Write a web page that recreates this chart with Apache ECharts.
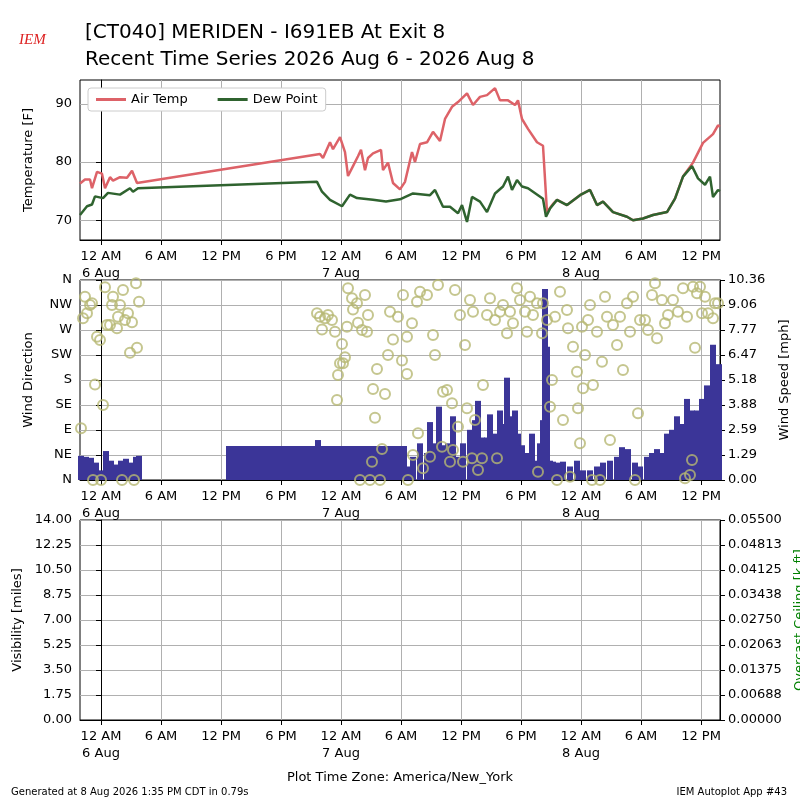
<!DOCTYPE html>
<html lang="en">
<head>
<meta charset="UTF-8">
<title>IEM Autoplot 43</title>
<script src="https://cdn.jsdelivr.net/npm/echarts@6/dist/echarts.min.js"></script>
<style>body{margin:0}#main{width:800px;height:800px}</style>
</head>
<body>
<div id="main"></div>
<script>
// hours since 12 AM 6 Aug (America/New_York)
var airTemp = [[-2.1,76.3],[-1.6,77],[-1.1,77],[-0.9,75.5],[-0.4,78.3],[0.1,78],[0.4,75.5],[0.9,77.4],[1.2,76.8],[1.9,77.4],[2.6,77.3],[3.1,78.5],[3.6,76.4],
  [21.9,81.4],[22.2,80.7],[22.9,83.4],[23.2,82.2],[23.9,84.3],[24.4,81.7],[24.7,77.6],[25.2,79.3],[25.7,81],[26,82.1],[26.4,78.6],[26.7,80.7],[27.2,81.5],[28,82.1],
  [28.2,78.6],[28.7,79.9],[29.2,76.4],[29.9,75.3],[30.4,76.6],[31.1,81.7],[31.4,80],[31.9,83.1],[32.6,83.4],[33.2,85.2],[33.9,83.6],[34.4,87.4],[35.1,89.5],[35.7,90.3],
  [36.6,91.8],[37.2,89.8],[37.9,91.2],[38.6,91.5],[39.4,92.7],[39.9,90.6],[40.7,90.6],[41.4,89.8],[41.7,90.6],[42.1,87.4],[42.7,85.7],[43.6,83.4],[44.2,82.8],
  [44.6,71.4],[45.2,72.8],[45.6,73.5],[46.6,72.6],[47.9,74.3],[48.9,75.2],[49.6,72.6],[50.2,73.2],[51.2,71.4],[52.6,70.6],[53.2,70],[54.2,70.3],[55.2,70.9],
  [56.6,71.4],[57.4,73.7],[58.2,77.5],[59.2,79.9],[60.2,83.3],[61.2,84.8],[61.7,86.3],[61.9,86.1]];
var dewPoint = [[-2.1,70.9],[-1.4,72.4],[-0.9,72.7],[-0.6,74.1],[0.2,73.8],[0.7,74.7],[1.9,74.4],[2.9,75.5],[3.2,74.9],[3.7,75.5],
  [21.6,76.6],[22.1,74.9],[22.9,73.5],[24.1,72.4],[24.9,74.4],[25.6,73.8],[27.2,73.5],[28.5,73.2],[29.9,73.6],[31.2,74.6],[32.9,74.3],[33.4,75.2],
  [34.2,72.3],[34.9,72.3],[35.7,71.2],[36.1,72.6],[36.6,69.7],[37.1,74],[37.9,73.2],[38.6,71.4],[39.4,74.6],[40.2,75.8],[40.7,77.5],[41.1,75.2],
  [41.6,76.9],[42.1,75.8],[42.7,75.5],[44.2,73.7],[44.5,70.6],[44.9,72],[45.6,73.5],[46.6,72.6],[47.9,74.3],[48.9,75.2],[49.6,72.6],[50.2,73.2],
  [51.2,71.4],[52.6,70.6],[53.2,70],[54.2,70.3],[55.2,70.9],[56.6,71.4],[57.4,73.7],[58.2,77.5],[59.1,79.3],[59.7,77.2],[60.4,76.1],[60.9,77.5],
  [61.2,74],[61.7,75.2],[61.9,75]];
var windSpeed = [[-2,1.25],[-1.5,1.2],[-1,1.15],[-0.5,0.9],[0,0.5],[0.5,0.75],[0.5,1.5],[1,1.0],[1.5,0.8],[2,1.0],[2.5,1.1],[3,0.9],[3.5,1.2],[3.8,1.25],
  [12.8,1.76],[13.3,1.76],[13.8,1.76],[14.3,1.76],[14.8,1.76],[15.3,1.76],[15.8,1.76],[16.3,1.76],[16.8,1.76],[17.3,1.76],[17.8,1.76],[18.3,1.76],
  [18.8,1.76],[19.3,1.76],[19.8,1.76],[20.3,1.76],[20.8,1.76],[21.3,1.76],[21.7,2.07],[22.3,1.76],[22.8,1.76],[23.3,1.76],[23.8,1.76],[24.3,1.76],
  [24.8,1.76],[25.3,1.76],[25.8,1.76],[26.3,1.76],[26.8,1.76],[27.3,1.76],[27.8,1.76],[28.3,1.76],[28.8,1.76],[29.3,1.76],[29.8,1.76],[30.3,1.76],
  [30.6,0.7],[31.2,1.2],[31.9,1.9],[32.6,1.4],[32.9,3.0],[33.4,1.9],[33.8,3.8],[34.2,1.8],[34.7,1.9],[35.2,3.3],[35.7,1.2],[36.2,1.9],[36.9,2.6],
  [37.4,3.1],[37.7,4.1],[38.1,2.2],[38.6,2.2],[38.9,3.4],[39.4,2.4],[39.9,3.6],[40.2,2.9],[40.6,5.3],[41.1,3.3],[41.4,3.6],[41.7,2.4],[42.1,1.8],
  [42.6,1.4],[43.1,2.4],[43.6,1.0],[43.9,1.9],[44.2,3.1],[44.4,9.9],[44.6,6.9],[44.9,1.0],[45.2,0.95],[45.6,0.9],[46.2,0.95],[46.9,0.7],[47.6,1.0],
  [48.2,0.5],[48.9,0.5],[49.6,0.7],[50.2,0.9],[50.9,1.0],[51.6,1.2],[52.1,1.7],[52.7,1.6],[53.4,0.9],[53.9,0.7],[54.6,1.2],[55.1,1.4],[55.6,1.6],
  [56.1,1.4],[56.6,2.4],[57.1,2.6],[57.6,3.3],[58.1,2.9],[58.6,4.2],[59.1,3.6],[59.6,3.6],[60.1,4.2],[60.6,4.9],[60.9,4.1],[61.2,7.0],[61.4,5.7],[61.8,6.0]];
var windDir = [[-2,93],[-1.8,291],[-1.6,330],[-1.4,300],[-1.1,315],[-0.9,318],[-0.6,172],[-0.8,0],[-0.4,258],[-0.1,252],[0,0],[0.2,135],[0.4,347],
  [0.6,279],[0.9,279],[1.1,315],[1.2,330],[1.6,273],[1.7,294],[1.9,315],[2.1,0],[2.2,342],[2.4,288],[2.7,300],[2.9,229],[3.1,284],[3.3,0],[3.5,354],
  [3.6,238],[3.8,321],
  [21.6,300],[21.9,294],[22.1,271],[22.4,291],[22.7,297],[23.1,288],[23.4,267],[23.6,144],[23.7,189],[23.9,210],[24.1,245],[24.2,210],[24.4,221],
  [24.6,276],[24.7,345],[25.1,327],[25.2,307],[25.6,318],[25.7,283],[25.9,0],[26.1,270],[26.4,333],[26.6,267],[26.7,297],[26.9,0],[27.1,33],
  [27.2,164],[27.4,112],[27.6,200],[27.9,0],[28.1,56],[28.4,155],[28.7,225],[28.9,303],[29.2,253],[29.7,294],[30.1,215],[30.2,333],[30.6,191],
  [30.7,0],[30.6,258],[31.1,282],[31.2,45],[31.6,321],[31.7,84],[31.9,339],[32.2,21],[32.6,333],[32.9,42],[33.2,261],[33.4,225],[33.7,351],
  [34.1,60],[34.2,159],[34.6,162],[34.9,33],[35.1,138],[35.2,54],[35.4,342],[35.7,96],[35.9,297],[36.2,33],[36.4,243],[36.6,129],[36.9,324],
  [37.1,39],[37.2,303],[37.4,108],[37.7,18],[38.1,39],[38.2,171],[38.6,297],[38.9,327],[39.4,288],[39.6,39],[39.9,303],[40.2,315],[40.6,264],
  [40.9,303],[41.2,282],[41.6,345],[41.9,324],[42.4,303],[42.6,267],[42.9,330],[43.2,297],[43.6,318],[43.7,15],[44.1,264],[44.2,318],[44.6,288],
  [44.9,132],[45.1,180],[45.4,294],[45.6,0],[45.9,339],[46.2,108],[46.6,306],[46.7,273],[46.9,6],[47.2,240],[47.6,195],[47.7,129],[47.9,66],
  [48.1,276],[48.2,165],[48.4,225],[48.7,288],[48.9,315],[49.1,0],[49.2,171],[49.6,267],[49.9,0],[50.1,213],[50.4,330],[50.6,294],[50.9,72],
  [51.2,279],[51.6,243],[51.9,294],[52.2,198],[52.6,318],[52.9,267],[53.2,330],[53.4,0],[53.7,120],[53.9,288],[54.4,288],[54.7,270],[55.1,333],
  [55.4,354],[55.6,255],[56.1,324],[56.4,282],[56.7,297],[57.2,324],[57.7,303],[58.2,345],[58.4,3],[58.6,294],[58.9,9],[59.1,36],[59.2,348],
  [59.4,238],[59.6,336],[59.9,348],[60.1,300],[60.4,330],[60.7,300],[61.2,291],[61.4,318],[61.7,318]];
var timeTicks = [0, 6, 12, 18, 24, 30, 36, 42, 48, 54, 60];
var timeLabels = ['12 AM\n6 Aug', '6 AM', '12 PM', '6 PM', '12 AM\n7 Aug', '6 AM', '12 PM', '6 PM', '12 AM\n8 Aug', '6 AM', '12 PM'];
var tempTicks = [70, 80, 90];
var dirLabels = ['N', 'NE', 'E', 'SE', 'S', 'SW', 'W', 'NW', 'N'];

var font = 'DejaVu Sans';
var gridLine = {show: true, lineStyle: {color: '#b0b0b0', width: 1}};
var axLine = {show: true, lineStyle: {color: '#000', width: 1}};

function timeAxis(idx) {
  return {
    type: 'value', gridIndex: idx, min: -2.1, max: 61.9,
    axisLine: axLine, axisTick: {show: true, customValues: timeTicks, lineStyle: {color: '#000'}},
    splitLine: gridLine,
    axisLabel: {customValues: timeTicks, color: '#000', fontFamily: font, fontSize: 13, lineHeight: 17,
      formatter: function (v) { return timeLabels[timeTicks.indexOf(Math.round(v))] || ''; }}
  };
}
function box(top, height) {
  return {left: 80, right: 80, top: top, height: height, outerBoundsMode: 'none',
    show: true, borderColor: '#000', borderWidth: 1, backgroundColor: 'transparent'};
}

var chart = echarts.init(document.getElementById('main'));
chart.setOption({
  animation: false,
  backgroundColor: '#fff',
  textStyle: {fontFamily: font},
  title: [
    {text: '[CT040] MERIDEN - I691EB At Exit 8\nRecent Time Series 2026 Aug 6 - 2026 Aug 8', left: 80, top: 14,
      textStyle: {fontSize: 20, fontWeight: 'normal', color: '#000', lineHeight: 27, fontFamily: font}},
    {text: 'Generated at 8 Aug 2026 1:35 PM CDT in 0.79s', left: 6, top: 782, textStyle: {fontSize: 10, fontWeight: 'normal', color: '#000'}},
    {text: 'IEM Autoplot App #43', right: 8, top: 782, textStyle: {fontSize: 10, fontWeight: 'normal', color: '#000'}},
    {text: 'Plot Time Zone: America/New_York', left: 'center', top: 766, textStyle: {fontSize: 13, fontWeight: 'normal', color: '#000'}},
    {text: 'IEM', left: 14, top: 28, textStyle: {fontSize: 15, fontStyle: 'italic', fontWeight: 'normal', color: '#d22', fontFamily: 'Liberation Serif'}}
  ],
  legend: {
    left: 88, top: 88, itemWidth: 30, itemHeight: 3, itemGap: 30, padding: [5, 8],
    borderColor: '#ccc', borderWidth: 1, borderRadius: 3, backgroundColor: '#fff',
    textStyle: {fontSize: 13, color: '#000'},
    data: [{name: 'Air Temp', icon: 'rect'}, {name: 'Dew Point', icon: 'rect'}]
  },
  grid: [box(80, 160), box(280, 200), box(520, 200)],
  xAxis: [timeAxis(0), timeAxis(1), timeAxis(2)],
  yAxis: [
    {type: 'value', gridIndex: 0, min: 66.6, max: 94.1, name: 'Temperature [F]', nameLocation: 'middle', nameGap: 45,
      nameTextStyle: {fontSize: 13, color: '#000'}, axisLine: axLine,
      axisTick: {show: true, customValues: tempTicks, lineStyle: {color: '#000'}},
      axisLabel: {customValues: tempTicks, color: '#000', fontSize: 13},
      splitLine: gridLine},
    {type: 'value', gridIndex: 1, min: 0, max: 360, interval: 45, name: 'Wind Direction', nameLocation: 'middle', nameGap: 45,
      nameTextStyle: {fontSize: 13, color: '#000'}, axisLine: axLine, axisTick: {show: true, lineStyle: {color: '#000'}},
      axisLabel: {color: '#000', fontSize: 13, formatter: function (v) { return dirLabels[Math.round(v / 45)]; }},
      splitLine: gridLine},
    {type: 'value', gridIndex: 1, min: 0, max: 10.36, interval: 1.295, position: 'right', name: 'Wind Speed [mph]',
      nameLocation: 'middle', nameGap: 58, nameRotate: 90, nameTextStyle: {fontSize: 13, color: '#000'},
      axisLine: axLine, axisTick: {show: true, lineStyle: {color: '#000'}},
      axisLabel: {color: '#000', fontSize: 13, formatter: function (v) { return v.toFixed(2); }}, splitLine: {show: false}},
    {type: 'value', gridIndex: 2, min: 0, max: 14, interval: 1.75, name: 'Visibility [miles]', nameLocation: 'middle', nameGap: 50,
      nameTextStyle: {fontSize: 13, color: '#000'}, axisLine: axLine, axisTick: {show: true, lineStyle: {color: '#000'}},
      axisLabel: {color: '#000', fontSize: 13, formatter: function (v) { return v.toFixed(2); }}, splitLine: gridLine},
    {type: 'value', gridIndex: 2, min: 0, max: 0.055, interval: 0.006875, position: 'right', name: 'Overcast Ceiling [k ft]',
      nameLocation: 'middle', nameGap: 68, nameRotate: 90, nameTextStyle: {fontSize: 13, color: 'green'},
      axisLine: axLine, axisTick: {show: true, lineStyle: {color: '#000'}},
      axisLabel: {color: '#000', fontSize: 13, formatter: function (v) { return v.toFixed(5); }}, splitLine: {show: false}}
  ],
  series: [
    {name: 'Wind Speed', type: 'bar', xAxisIndex: 1, yAxisIndex: 2, data: windSpeed, barWidth: 6,
      itemStyle: {color: '#3b3598'}, z: 2},
    {name: 'Wind Direction', type: 'scatter', xAxisIndex: 1, yAxisIndex: 1, data: windDir, symbolSize: 10,
      itemStyle: {color: 'rgba(0,0,0,0)', borderColor: '#b6b873', borderWidth: 2}, z: 3},
    {name: 'Air Temp', type: 'line', xAxisIndex: 0, yAxisIndex: 0, data: airTemp, showSymbol: false,
      lineStyle: {color: '#dd6268', width: 2.5}, itemStyle: {color: '#dd6268'}, z: 3},
    {name: 'Dew Point', type: 'line', xAxisIndex: 0, yAxisIndex: 0, data: dewPoint, showSymbol: false,
      lineStyle: {color: '#2f632f', width: 2.5}, itemStyle: {color: '#2f632f'}, z: 4}
  ]
});
</script>
</body>
</html>
